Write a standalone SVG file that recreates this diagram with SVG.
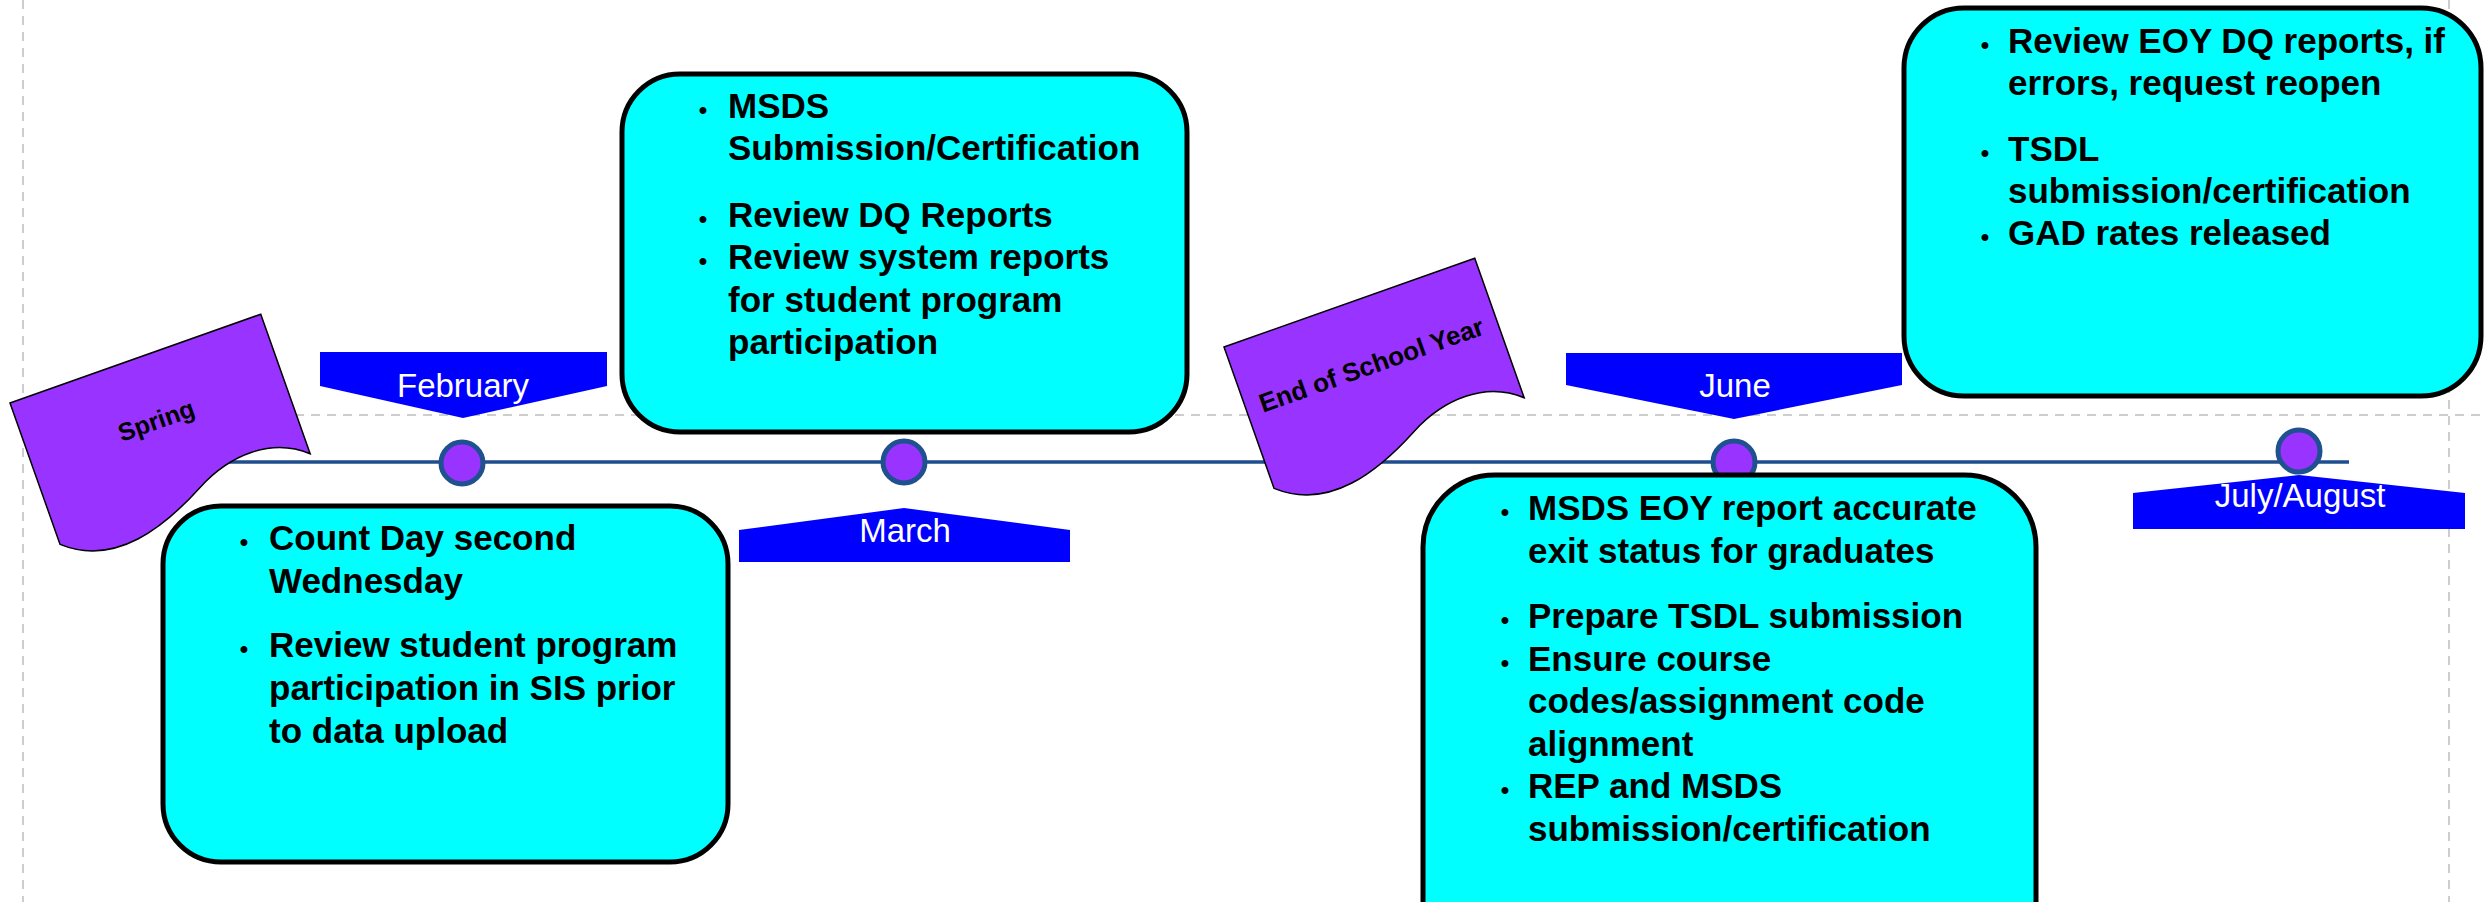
<svg xmlns="http://www.w3.org/2000/svg" width="2484" height="902" viewBox="0 0 2484 902">
<style>
.guide{stroke:#BDBDBD;stroke-width:1.5;stroke-dasharray:9 7;fill:none}
.tl{stroke:#1F4E8F;stroke-width:3.5;fill:none}
.dot{fill:#9933FF;stroke:#1F5090;stroke-width:5}
.banner{fill:#0000FF}
.btxt{font-family:"Liberation Sans",Arial,sans-serif;font-size:33px;fill:#FFFFFF;text-anchor:middle}
.flag{fill:#9933FF;stroke:#000000;stroke-width:1.5}
.ftxt{font-family:"Liberation Sans",Arial,sans-serif;font-weight:bold;fill:#000000;text-anchor:middle}
.box{fill:#00FFFF;stroke:#000000;stroke-width:5}
.txt{font-family:"Liberation Sans",Arial,sans-serif;font-size:35px;font-weight:bold;fill:#000000}
.bul{font-family:"Liberation Sans",Arial,sans-serif;font-size:24px;font-weight:bold;fill:#000000;text-anchor:middle}
</style>
<defs>
<path id="flagShape" d="M0,0 H266 V148 C235,120 190,122 151,143 C105,168 45,190 0,150 Z"/>
</defs>
<rect x="0" y="0" width="2484" height="902" fill="#FFFFFF"/>
<g id="guides">
<line class="guide" x1="23" y1="0" x2="23" y2="902"/>
<line class="guide" x1="2449" y1="0" x2="2449" y2="902"/>
<line class="guide" x1="23" y1="415" x2="2484" y2="415"/>
</g>
<g id="connectors">
<line class="tl" x1="180" y1="462" x2="2349" y2="462"/>
</g>
<g id="dot-february"><circle class="dot" cx="462" cy="463" r="21"/></g>
<g id="dot-march"><circle class="dot" cx="904" cy="462" r="21"/></g>
<g id="dot-june"><circle class="dot" cx="1734" cy="462" r="21"/></g>
<g id="dot-julyaugust"><circle class="dot" cx="2299" cy="451" r="21"/></g>
<g id="banner-february">
<polygon class="banner" points="320,352 607,352 607,386 463,418 320,386"/>
<text class="btxt" x="463" y="397">February</text>
</g>
<g id="banner-march">
<polygon class="banner" points="739,562 1070,562 1070,530 904,508 739,530"/>
<text class="btxt" x="905" y="542">March</text>
</g>
<g id="banner-june">
<polygon class="banner" points="1566,353 1902,353 1902,385 1734,419 1566,385"/>
<text class="btxt" x="1735" y="397">June</text>
</g>
<g id="banner-julyaugust">
<polygon class="banner" points="2133,529 2465,529 2465,493 2299,475 2133,493"/>
<text class="btxt" x="2300" y="507">July/August</text>
</g>
<g id="flag-spring" transform="translate(10,403) rotate(-19.5)">
<use href="#flagShape" class="flag"/>
<text class="ftxt" x="132" y="74" font-size="25">Spring</text>
</g>
<g id="flag-endofyear" transform="translate(1224,347) rotate(-19.5)">
<use href="#flagShape" class="flag"/>
<text class="ftxt" x="133" y="75" font-size="26">End of School Year</text>
</g>
<g id="box-february">
<rect class="box" x="163" y="506" width="565" height="356" rx="58" ry="58"/>
<text class="bul" x="244" y="550">•</text>
<text class="bul" x="244" y="657">•</text>
<text class="txt" x="269" y="550">Count Day second</text>
<text class="txt" x="269" y="593">Wednesday</text>
<text class="txt" x="269" y="657">Review student program</text>
<text class="txt" x="269" y="700">participation in SIS prior</text>
<text class="txt" x="269" y="743">to data upload</text>
</g>
<g id="box-march">
<rect class="box" x="622" y="74" width="565" height="358" rx="58" ry="58"/>
<text class="bul" x="703" y="118">•</text>
<text class="bul" x="703" y="227">•</text>
<text class="bul" x="703" y="269">•</text>
<text class="txt" x="728" y="118">MSDS</text>
<text class="txt" x="728" y="160">Submission/Certification</text>
<text class="txt" x="728" y="227">Review DQ Reports</text>
<text class="txt" x="728" y="269">Review system reports</text>
<text class="txt" x="728" y="312">for student program</text>
<text class="txt" x="728" y="354">participation</text>
</g>
<g id="box-june">
<rect class="box" x="1423" y="475" width="613" height="620" rx="72" ry="72"/>
<text class="bul" x="1505" y="520">•</text>
<text class="bul" x="1505" y="628">•</text>
<text class="bul" x="1505" y="671">•</text>
<text class="bul" x="1505" y="798">•</text>
<text class="txt" x="1528" y="520">MSDS EOY report accurate</text>
<text class="txt" x="1528" y="563">exit status for graduates</text>
<text class="txt" x="1528" y="628">Prepare TSDL submission</text>
<text class="txt" x="1528" y="671">Ensure course</text>
<text class="txt" x="1528" y="713">codes/assignment code</text>
<text class="txt" x="1528" y="756">alignment</text>
<text class="txt" x="1528" y="798">REP and MSDS</text>
<text class="txt" x="1528" y="841">submission/certification</text>
</g>
<g id="box-julyaugust">
<rect class="box" x="1904" y="8" width="577" height="388" rx="60" ry="60"/>
<text class="bul" x="1985" y="53">•</text>
<text class="bul" x="1985" y="161">•</text>
<text class="bul" x="1985" y="245">•</text>
<text class="txt" x="2008" y="53">Review EOY DQ reports, if</text>
<text class="txt" x="2008" y="95">errors, request reopen</text>
<text class="txt" x="2008" y="161">TSDL</text>
<text class="txt" x="2008" y="203">submission/certification</text>
<text class="txt" x="2008" y="245">GAD rates released</text>
</g>
</svg>
